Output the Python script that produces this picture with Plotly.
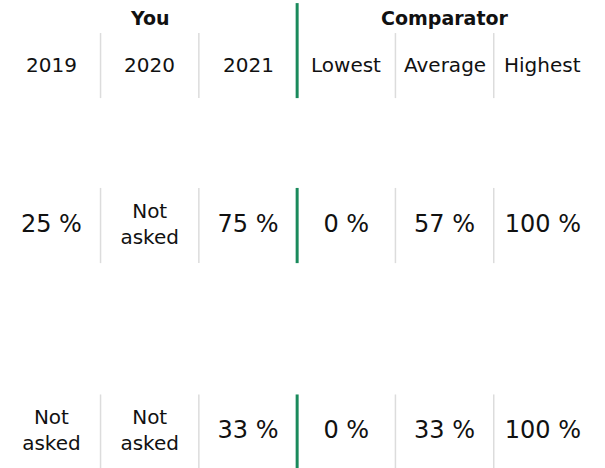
import plotly.graph_objects as go

# ---- data ----
groups = ["You", "Comparator"]
group_cols = [[0, 1, 2], [3, 4, 5]]
columns = ["2019", "2020", "2021", "Lowest", "Average", "Highest"]
rows = [0, 1]
you_2019 = [25, None]
you_2020 = [None, None]
you_2021 = [75, 33]
comp_lowest = [0, 0]
comp_average = [57, 33]
comp_highest = [100, 100]
series = [you_2019, you_2020, you_2021, comp_lowest, comp_average, comp_highest]
missing_label = "Not<br>asked"

FONT = "DejaVu Sans"
TXT = "#111111"
GREY = "#dcdcdc"
GREEN = "#1a8a5c"

fig = go.Figure()

num_x, num_y, num_t = [], [], []
na_x, na_y = [], []
for ci, vals in enumerate(series):
    for ri, v in zip(rows, vals):
        if v is None:
            na_x.append(ci); na_y.append(ri)
        else:
            num_x.append(ci); num_y.append(ri); num_t.append(f"{v} %")

fig.add_trace(go.Scatter(x=num_x, y=num_y, text=num_t, mode="text",
                         textposition="middle center",
                         textfont=dict(family=FONT, size=24, color=TXT),
                         hoverinfo="skip", showlegend=False))
fig.add_trace(go.Scatter(x=na_x, y=na_y, text=[missing_label] * len(na_x), mode="text",
                         textposition="middle center",
                         textfont=dict(family=FONT, size=20, color=TXT),
                         hoverinfo="skip", showlegend=False))

# header levels (y axis units)
y_group = -1.005
y_col = -0.777
hdr_top_green = -1.077
hdr_top_grey = -0.932
hdr_bot = -0.617
row_half = 0.182

for g, cols in zip(groups, group_cols):
    fig.add_annotation(x=sum(cols) / len(cols), y=y_group, text=f"<b>{g}</b>",
                       showarrow=False, font=dict(family=FONT, size=19, color=TXT))
for ci, c in enumerate(columns):
    fig.add_annotation(x=ci, y=y_col, text=c, showarrow=False,
                       font=dict(family=FONT, size=20, color=TXT))

for b in [0.5, 1.5, 2.5, 3.5, 4.5]:
    green = (b == 2.5)
    col = GREEN if green else GREY
    w = 3 if green else 1.5
    fig.add_shape(type="line", x0=b, x1=b, y0=hdr_top_green if green else hdr_top_grey,
                  y1=hdr_bot, line=dict(color=col, width=w))
    for r in rows:
        fig.add_shape(type="line", x0=b, x1=b, y0=r - row_half, y1=r + row_half,
                      line=dict(color=col, width=w))

fig.update_layout(
    width=605, height=468,
    margin=dict(l=0, r=0, t=0, b=0),
    paper_bgcolor="white", plot_bgcolor="white",
    xaxis=dict(range=[-0.523, 5.632], visible=False, fixedrange=True),
    yaxis=dict(range=[1.174, -1.092], visible=False, fixedrange=True),
)

fig.write_html("out.html", config={"displayModeBar": False},
               post_script="document.body.style.margin='0';")
